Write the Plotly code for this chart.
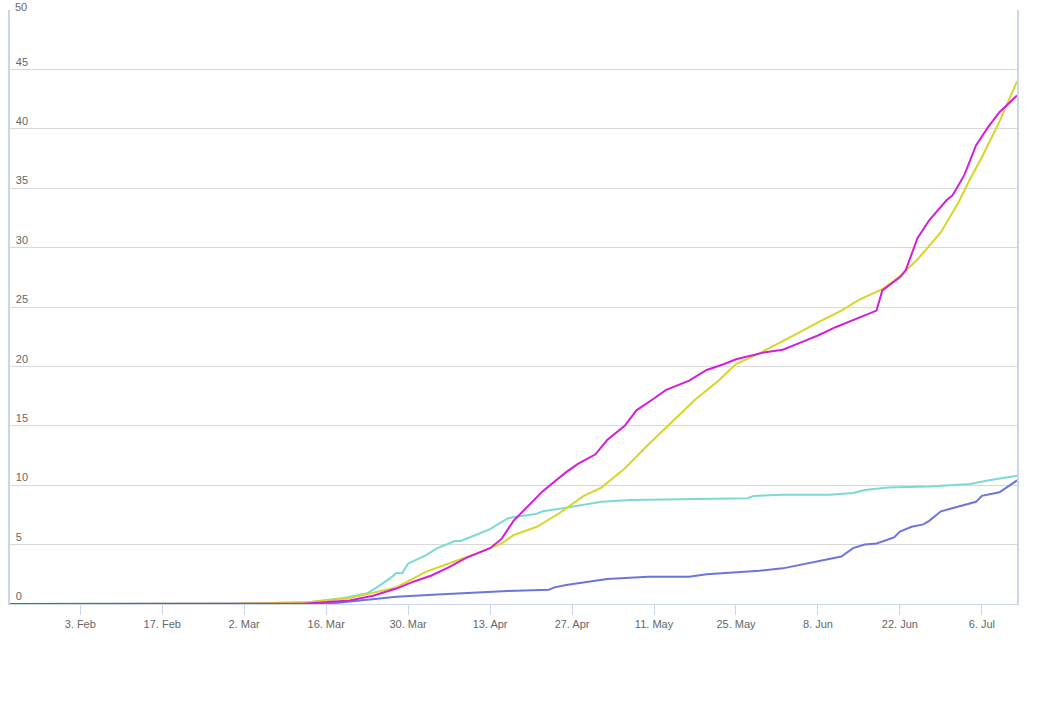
import plotly.graph_objects as go

yellow_dates = ["2020-01-22","2020-03-01","2020-03-13","2020-03-20","2020-03-28","2020-04-02","2020-04-07","2020-04-11",
                "2020-04-15","2020-04-17","2020-04-21","2020-04-25","2020-04-29","2020-05-02","2020-05-06","2020-05-10",
                "2020-05-14","2020-05-18","2020-05-22","2020-05-25","2020-05-29","2020-06-02","2020-06-05","2020-06-08",
                "2020-06-12","2020-06-15","2020-06-19","2020-06-22","2020-06-25","2020-06-29","2020-07-02","2020-07-04",
                "2020-07-06","2020-07-09","2020-07-12"]
yellow_vals = [0,0.02,0.15,0.5,1.4,2.7,3.6,4.3,
               5.1,5.8,6.5,7.7,9.1,9.8,11.4,13.4,
               15.3,17.2,18.8,20.2,21.1,22.1,22.9,23.7,
               24.7,25.6,26.5,27.6,29.0,31.3,33.8,35.8,
               37.6,40.6,44.0]

magenta_dates = ["2020-01-22","2020-03-12","2020-03-20","2020-03-24","2020-03-28","2020-03-31","2020-04-03","2020-04-06",
                 "2020-04-09","2020-04-13","2020-04-15","2020-04-17","2020-04-19","2020-04-22","2020-04-26","2020-04-28",
                 "2020-05-01","2020-05-03","2020-05-06","2020-05-08","2020-05-11","2020-05-13","2020-05-17","2020-05-20",
                 "2020-05-23","2020-05-25","2020-05-30","2020-06-02","2020-06-05","2020-06-08","2020-06-11","2020-06-15",
                 "2020-06-18","2020-06-19","2020-06-22","2020-06-23","2020-06-25","2020-06-27","2020-06-30","2020-07-01",
                 "2020-07-03","2020-07-05","2020-07-07","2020-07-09","2020-07-12"]
magenta_vals = [0,0.02,0.3,0.7,1.3,1.9,2.4,3.1,
                3.9,4.7,5.5,7.0,8.0,9.5,11.1,11.8,
                12.6,13.8,15.0,16.3,17.3,18.0,18.8,19.7,
                20.2,20.6,21.2,21.4,22.0,22.6,23.3,24.1,
                24.7,26.4,27.5,28.1,30.8,32.3,34.0,34.4,
                36.1,38.6,40.1,41.4,42.8]

cyan_dates = ["2020-01-22","2020-03-01","2020-03-13","2020-03-19","2020-03-23","2020-03-25","2020-03-27","2020-03-28",
              "2020-03-29","2020-03-30","2020-04-02","2020-04-04","2020-04-07","2020-04-08","2020-04-10","2020-04-13",
              "2020-04-16","2020-04-17","2020-04-21","2020-04-22","2020-04-26","2020-05-02","2020-05-07","2020-05-16",
              "2020-05-27","2020-05-28","2020-06-02","2020-06-10","2020-06-14","2020-06-16","2020-06-20","2020-06-27",
              "2020-07-04","2020-07-07","2020-07-12"]
cyan_vals = [0,0.05,0.15,0.5,0.9,1.5,2.2,2.6,
             2.6,3.4,4.1,4.7,5.3,5.3,5.7,6.3,
             7.2,7.3,7.6,7.8,8.1,8.6,8.75,8.8,
             8.9,9.1,9.2,9.2,9.35,9.6,9.8,9.9,
             10.1,10.4,10.8]

blue_dates = ["2020-01-22","2020-03-10","2020-03-18","2020-03-22","2020-03-25","2020-03-28","2020-04-04","2020-04-08",
              "2020-04-16","2020-04-23","2020-04-24","2020-04-26","2020-04-30","2020-05-03","2020-05-10","2020-05-17",
              "2020-05-20","2020-05-29","2020-06-02","2020-06-05","2020-06-10","2020-06-12","2020-06-14","2020-06-16",
              "2020-06-18","2020-06-21","2020-06-22","2020-06-24","2020-06-26","2020-06-27","2020-06-29","2020-07-02",
              "2020-07-05","2020-07-06","2020-07-09","2020-07-12"]
blue_vals = [0,0,0.1,0.3,0.5,0.6,0.8,0.9,
             1.1,1.2,1.4,1.6,1.9,2.1,2.3,2.3,
             2.5,2.8,3.0,3.3,3.8,4.0,4.7,5.0,
             5.1,5.6,6.1,6.5,6.7,7.0,7.8,8.2,
             8.6,9.1,9.4,10.4]

tick_dates = ["2020-02-03","2020-02-17","2020-03-02","2020-03-16","2020-03-30","2020-04-13",
              "2020-04-27","2020-05-11","2020-05-25","2020-06-08","2020-06-22","2020-07-06"]
tick_labels = ["3. Feb","17. Feb","2. Mar","16. Mar","30. Mar","13. Apr",
               "27. Apr","11. May","25. May","8. Jun","22. Jun","6. Jul"]

fig = go.Figure()
series = [
    (cyan_dates, cyan_vals, "#7dd9d6"),
    (blue_dates, blue_vals, "#6a76dc"),
    (yellow_dates, yellow_vals, "#d6d62a"),
    (magenta_dates, magenta_vals, "#d41fd9"),
]
for d, v, c in series:
    fig.add_trace(go.Scatter(x=d, y=v, mode="lines", line=dict(color=c, width=2), showlegend=False, hoverinfo="skip"))

fig.update_layout(
    width=1057, height=708,
    margin=dict(l=10, r=40, t=10, b=104, autoexpand=False),
    plot_bgcolor="white", paper_bgcolor="white",
    font=dict(family="Liberation Sans, Arial, sans-serif", size=11, color="#666666"),
    xaxis=dict(
        type="date", range=["2020-01-22", "2020-07-12"], automargin=False,
        tickvals=tick_dates, ticktext=tick_labels,
        ticks="outside", ticklen=10, tickcolor="#ccd6eb", tickwidth=1,
        showgrid=False, showline=True, linecolor="#ccd6eb", linewidth=1,
        zeroline=False, tickfont=dict(size=11, color="#666666"),
    ),
    yaxis=dict(
        range=[0, 50], dtick=5, tick0=0, automargin=False,
        showgrid=True, gridcolor="#d9d9d9", gridwidth=1,
        showline=True, mirror=True, linecolor="#ccd6eb", linewidth=2,
        zeroline=False, ticks="",
        ticklabelposition="inside top", ticklabelstandoff=4,
        tickfont=dict(size=11, color="#666666"),
    ),
    annotations=[dict(x=0, xref="paper", y=1, yref="paper", text="50", showarrow=False,
                      xanchor="left", yanchor="top", xshift=3, yshift=11,
                      font=dict(size=11, color="#666666"))],
)

fig.write_html("out.html", config={"displayModeBar": False},
               post_script="document.body.style.margin='0';document.body.style.padding='0';")
